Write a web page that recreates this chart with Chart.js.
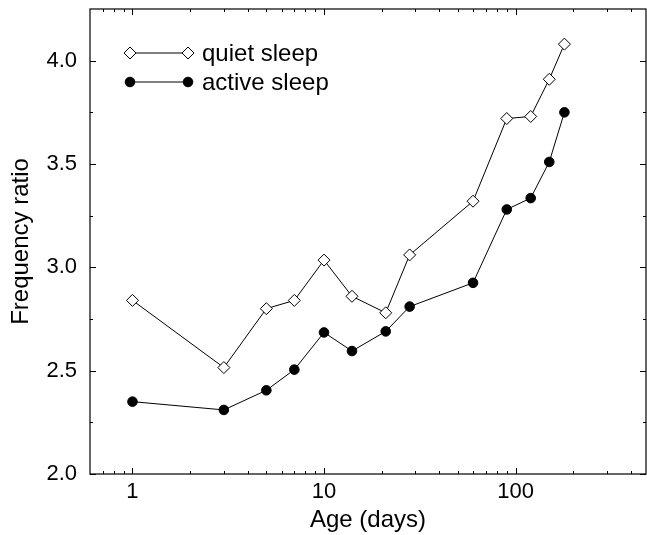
<!DOCTYPE html>
<html><head><meta charset="utf-8">
<script src="https://cdn.jsdelivr.net/npm/chart.js@4/dist/chart.umd.min.js"></script>
<style>html,body{margin:0;padding:0;background:#fff;}#wrap{width:647px;height:535px;position:relative;overflow:hidden;}#c{position:absolute;left:0;top:0;}</style>
</head><body><div id="wrap"><canvas id="c" width="653" height="535"></canvas></div>
<script>
const ages = [1, 3, 5, 7, 10, 14, 21, 28, 60, 90, 120, 150, 180];
const quietSleep = [2.84, 2.515, 2.80, 2.84, 3.035, 2.86, 2.78, 3.06, 3.32, 3.72, 3.73, 3.91, 4.08];
const activeSleep = [2.35, 2.31, 2.405, 2.505, 2.685, 2.595, 2.69, 2.81, 2.925, 3.28, 3.335, 3.51, 3.75];
const xMajorTicks = [1, 10, 100];
const xMinorTicks = [0.7, 0.8, 0.9, 2, 3, 4, 5, 6, 7, 8, 9, 20, 30, 40, 50, 60, 70, 80, 90, 200, 300, 400];
const yMajorTicks = [2.0, 2.5, 3.0, 3.5, 4.0];
const yMinorTicks = [2.25, 2.75, 3.25, 3.75];
const seriesNames = ['quiet sleep', 'active sleep'];
const xTitle = 'Age (days)';
const yTitle = 'Frequency ratio';

const FONT = '"Liberation Sans", Arial, Helvetica, sans-serif';

const framePlugin = {
  id: 'frame',
  afterDatasetsDraw(chart) {
    const {ctx, chartArea: a, scales: {x, y}} = chart;
    ctx.save();
    ctx.strokeStyle = '#000';
    ctx.lineWidth = 1.2;
    ctx.strokeRect(a.left, a.top, a.right - a.left, a.bottom - a.top);
    ctx.lineWidth = 1;
    ctx.beginPath();
    x.ticks.forEach(t => {
      const px = Math.round(x.getPixelForValue(t.value)) + 0.5;
      const len = xMajorTicks.includes(t.value) ? 6 : 3;
      ctx.moveTo(px, a.bottom); ctx.lineTo(px, a.bottom - len);
      ctx.moveTo(px, a.top); ctx.lineTo(px, a.top + len);
    });
    y.ticks.forEach(t => {
      const py = Math.round(y.getPixelForValue(t.value)) + 0.5;
      const len = yMajorTicks.includes(t.value) ? 6 : 3;
      ctx.moveTo(a.left, py); ctx.lineTo(a.left + len, py);
      ctx.moveTo(a.right, py); ctx.lineTo(a.right - len, py);
    });
    ctx.stroke();
    ctx.restore();
  }
};

const legendPlugin = {
  id: 'customLegend',
  afterDraw(chart) {
    const {ctx} = chart;
    const rows = [{y: 53}, {y: 82}];
    ctx.save();
    chart.data.datasets.forEach((ds, i) => {
      const yy = rows[i].y;
      const x1 = 130, x2 = 188;
      ctx.strokeStyle = '#000';
      ctx.lineWidth = 1;
      ctx.beginPath(); ctx.moveTo(x1, yy); ctx.lineTo(x2, yy); ctx.stroke();
      const opts = {pointStyle: ds.pointStyle, radius: ds.pointRadius, borderWidth: ds.pointBorderWidth, rotation: 0};
      [x1, x2].forEach(px => {
        ctx.fillStyle = ds.pointBackgroundColor;
        ctx.strokeStyle = ds.pointBorderColor;
        ctx.lineWidth = ds.pointBorderWidth;
        Chart.helpers.drawPoint(ctx, opts, px, yy);
      });
      ctx.fillStyle = '#000';
      ctx.font = '24px ' + FONT;
      ctx.textBaseline = 'middle';
      ctx.textAlign = 'left';
      ctx.fillText(ds.label, 202, yy + 1);
    });
    ctx.restore();
  }
};

new Chart(document.getElementById('c'), {
  type: 'line',
  data: {
    datasets: [
      {
        label: seriesNames[0],
        data: ages.map((a, i) => ({x: a, y: quietSleep[i]})),
        borderColor: '#000', borderWidth: 1,
        pointStyle: 'rectRot', pointRadius: 6, pointBorderWidth: 1,
        pointBackgroundColor: '#fff', pointBorderColor: '#000',
        tension: 0, fill: false
      },
      {
        label: seriesNames[1],
        data: ages.map((a, i) => ({x: a, y: activeSleep[i]})),
        borderColor: '#000', borderWidth: 1,
        pointStyle: 'circle', pointRadius: 4.8, pointBorderWidth: 1,
        pointBackgroundColor: '#000', pointBorderColor: '#000',
        tension: 0, fill: false
      }
    ]
  },
  options: {
    responsive: false, animation: false, devicePixelRatio: 1,
    layout: {padding: {top: 9, right: 1, left: 0, bottom: 0}},
    plugins: {legend: {display: false}, tooltip: {enabled: false}},
    scales: {
      x: {
        type: 'logarithmic', min: 0.6, max: 480,
        afterBuildTicks(scale) {
          scale.ticks = [...xMajorTicks, ...xMinorTicks].sort((a, b) => a - b).map(v => ({value: v}));
        },
        afterFit(scale) { scale.height = 61; scale.paddingLeft = 0; scale.paddingRight = 0; },
        grid: {display: false, drawTicks: false},
        border: {display: false},
        ticks: {
          autoSkip: false, maxRotation: 0, padding: 5, color: '#000',
          font: {family: FONT, size: 22},
          callback: v => xMajorTicks.includes(v) ? String(v) : ''
        },
        title: {display: true, text: xTitle, color: '#000', font: {family: FONT, size: 24}, padding: {top: 0, bottom: 0}}
      },
      y: {
        type: 'linear', min: 2, max: 4.25,
        afterBuildTicks(scale) {
          scale.ticks = [...yMajorTicks, ...yMinorTicks].sort((a, b) => a - b).map(v => ({value: v}));
        },
        afterFit(scale) { scale.width = 90; scale.paddingTop = 0; scale.paddingBottom = 0; },
        grid: {display: false, drawTicks: false},
        border: {display: false},
        ticks: {
          autoSkip: false, padding: 13, color: '#000',
          font: {family: FONT, size: 22},
          callback: v => yMajorTicks.includes(v) ? v.toFixed(1) : ''
        },
        title: {display: true, text: yTitle, color: '#000', font: {family: FONT, size: 24}, padding: {top: 7, bottom: 0}}
      }
    }
  },
  plugins: [framePlugin, legendPlugin]
});
</script>
</body></html>
